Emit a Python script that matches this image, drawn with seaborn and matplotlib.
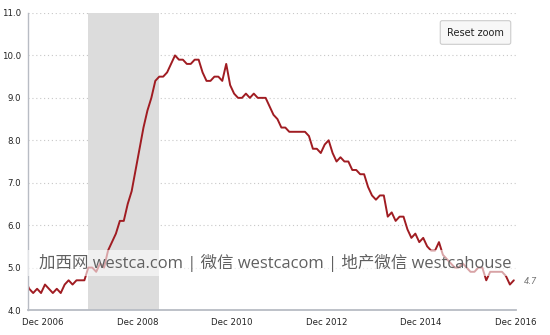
import matplotlib
matplotlib.use("Agg")
import matplotlib.pyplot as plt
import seaborn as sns
import pandas as pd
import numpy as np
from matplotlib.patches import Rectangle

# ---------------- data ----------------
start_month = -4  # Aug 2006, months counted from Dec 2006
rates = [
    4.7, 4.5, 4.4, 4.5, 4.4,                                        # 2006 Aug-Dec
    4.6, 4.5, 4.4, 4.5, 4.4, 4.6, 4.7, 4.6, 4.7, 4.7, 4.7, 5.0,     # 2007
    5.0, 4.9, 5.1, 5.0, 5.4, 5.6, 5.8, 6.1, 6.1, 6.5, 6.8, 7.3,     # 2008
    7.8, 8.3, 8.7, 9.0, 9.4, 9.5, 9.5, 9.6, 9.8, 10.0, 9.9, 9.9,    # 2009
    9.8, 9.8, 9.9, 9.9, 9.6, 9.4, 9.4, 9.5, 9.5, 9.4, 9.8, 9.3,     # 2010
    9.1, 9.0, 9.0, 9.1, 9.0, 9.1, 9.0, 9.0, 9.0, 8.8, 8.6, 8.5,     # 2011
    8.3, 8.3, 8.2, 8.2, 8.2, 8.2, 8.2, 8.1, 7.8, 7.8, 7.7, 7.9,     # 2012
    8.0, 7.7, 7.5, 7.6, 7.5, 7.5, 7.3, 7.3, 7.2, 7.2, 6.9, 6.7,     # 2013
    6.6, 6.7, 6.7, 6.2, 6.3, 6.1, 6.2, 6.2, 5.9, 5.7, 5.8, 5.6,     # 2014
    5.7, 5.5, 5.4, 5.4, 5.6, 5.3, 5.2, 5.1, 5.0, 5.0, 5.1, 5.0,     # 2015
    4.9, 4.9, 5.0, 5.0, 4.7, 4.9, 4.9, 4.9, 4.9, 4.8, 4.6, 4.7,     # 2016
]
x_tick_months = [0, 24, 48, 72, 96, 120]
x_tick_labels = ["Dec 2006", "Dec 2008", "Dec 2010", "Dec 2012", "Dec 2014", "Dec 2016"]
y_ticks = [4.0, 5.0, 6.0, 7.0, 8.0, 9.0, 10.0, 11.0]
y_tick_labels = ["4.0", "5.0", "6.0", "7.0", "8.0", "9.0", "10.0", "11.0"]
recession = (12, 30)  # Dec 2007 - Jun 2009
last_label = "4.7"
watermark = "加西网 westca.com | 微信 westcacom | 地产微信 westcahouse"
button_text = "Reset zoom"

df = pd.DataFrame({"month": np.arange(start_month, start_month + len(rates)),
                   "rate": rates})

# ---------------- figure ----------------
sns.set_style("white")
plt.rcParams["font.family"] = ["DejaVu Sans"]

W, H = 550, 335
fig = plt.figure(figsize=(W / 100, H / 100), dpi=100)
L, R, T, B = 28, 516, 13, 310
ax = fig.add_axes([L / W, 1 - B / H, (R - L) / W, (B - T) / H])

ax.axvspan(recession[0], recession[1], color="#dcdcdc", lw=0, zorder=1)
sns.lineplot(data=df, x="month", y="rate", color="#a01c22", lw=1.4, ax=ax, zorder=2)

ax.set_xlim(-3.31, 120.55)
ax.set_ylim(4.0, 11.0)
ax.set_xlabel("")
ax.set_ylabel("")

ax.set_yticks(y_ticks)
ax.set_yticklabels(y_tick_labels)
ax.set_xticks([m + 0.5 for m in x_tick_months])
ax.set_xticklabels(x_tick_labels)

ax.yaxis.grid(True, linestyle=(0, (1, 2.5)), color="#c8c8c8", lw=0.8, zorder=0)
ax.xaxis.grid(False)
ax.set_axisbelow(True)

for s in ["top", "right"]:
    ax.spines[s].set_visible(False)
ax.spines["left"].set_color("#b8bcc4")
ax.spines["left"].set_linewidth(1.0)
ax.spines["bottom"].set_color("#b8bcc4")
ax.spines["bottom"].set_linewidth(1.3)

ax.tick_params(axis="y", length=0, pad=5, labelsize=6.2, labelcolor="#222222")
ax.tick_params(axis="x", length=3, width=0.8, color="#b8bcc4", pad=3,
               labelsize=6.2, labelcolor="#222222", direction="out")

# last value label
ax.annotate(last_label, xy=(df["month"].iloc[-1], df["rate"].iloc[-1]),
            xytext=(7, -1), textcoords="offset points", fontsize=6,
            color="#777777", style="italic", va="center", ha="left",
            annotation_clip=False)

# watermark band + text
ax.add_patch(Rectangle((0, (B - 276) / (B - T)), 1.0, 26 / (B - T),
                       transform=ax.transAxes, facecolor="white", alpha=0.6,
                       lw=0, zorder=3))
wm = fig.text(275 / W, 1 - 263 / H, watermark, ha="center", va="center",
              fontsize=12, color="#606060", fontweight="medium",
              family=["Open Sans", "Noto Sans CJK SC"], zorder=4)
fig.canvas.draw()
ext = wm.get_window_extent(fig.canvas.get_renderer())
wm.set_fontsize(12 * 470 / ext.width)

# reset zoom button
fig.text(475.5 / W, 1 - 32.5 / H, button_text, ha="center", va="center",
         fontsize=7, color="#222222",
         bbox=dict(boxstyle="round,pad=0.7,rounding_size=0.2",
                   fc="#f7f7f7", ec="#cccccc", lw=0.8))

fig.savefig("out.png", dpi=100)
